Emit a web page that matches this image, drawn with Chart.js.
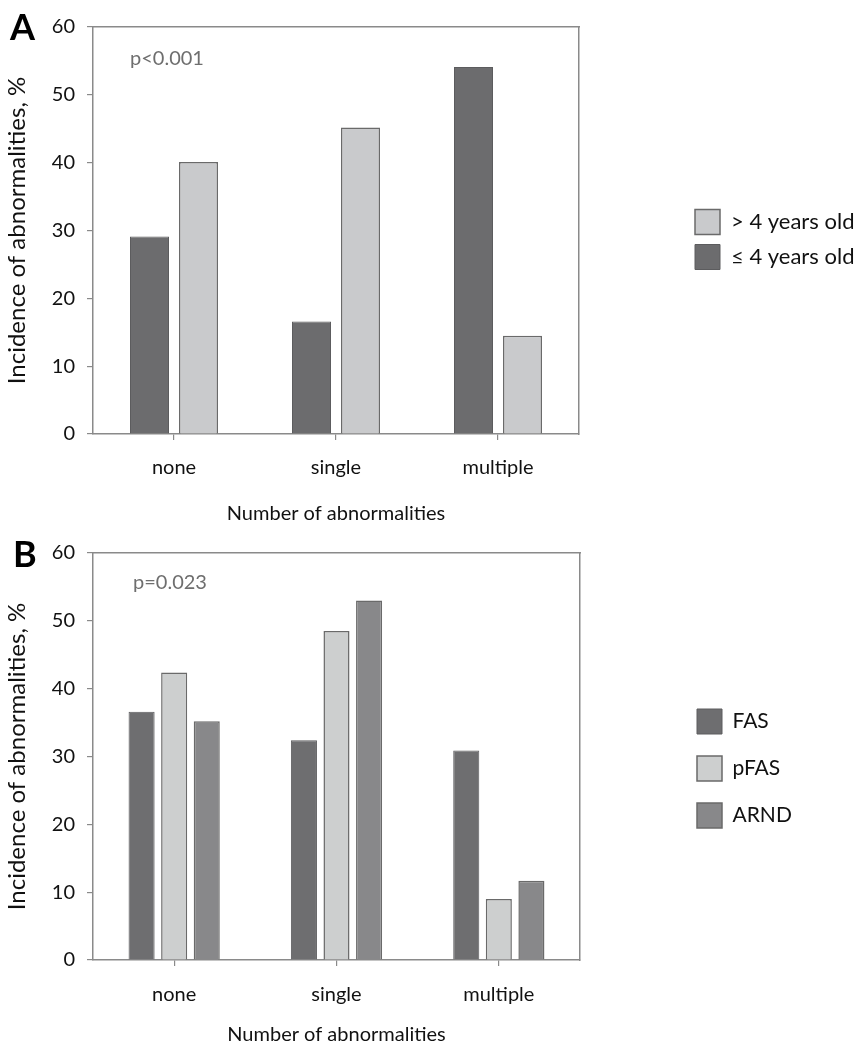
<!DOCTYPE html>
<html><head><meta charset="utf-8">
<script src="https://cdn.jsdelivr.net/npm/chart.js@4.4.1/dist/chart.umd.min.js"></script>
<style>
html,body{margin:0;padding:0;background:#fff;width:864px;height:1051px;overflow:hidden;position:relative}
.panel{position:absolute;left:0;width:900px}
#pa{top:0;height:526px}
#pb{top:526px;height:525px}
</style></head><body>
<div class="panel" id="pa"><canvas id="ca"></canvas></div>
<div class="panel" id="pb"><canvas id="cb"></canvas></div>
<script>
// ---- data ----
const categories = ['none', 'single', 'multiple'];
const yTickValues = [0, 10, 20, 30, 40, 50, 60];
const xTitle = 'Number of abnormalities';
const yTitle = 'Incidence of abnormalities, %';

// Panel A
const panelALetter = 'A';
const panelAP = 'p<0.001';
const ageLabels = ['\u2264 4 years old', '> 4 years old'];
const youngValues = [29.1, 16.6, 54.1];
const olderValues = [40.1, 45.2, 14.5];

// Panel B
const panelBLetter = 'B';
const panelBP = 'p=0.023';
const diagLabels = ['FAS', 'pFAS', 'ARND'];
const fasValues = [36.6, 32.4, 30.9];
const pfasValues = [42.4, 48.5, 9.0];
const arndValues = [35.2, 53.0, 11.7];

// ---- styling ----
const FONT = 'Lato';
const AXIS = '#8a8a8a';
const TEXT = '#111111';
const CANVAS_W = 900;

function legendWidth(texts, px, boxW, pad) {
  const c = document.createElement('canvas').getContext('2d');
  c.font = 'normal ' + px + 'px ' + FONT;
  const tw = Math.max(...texts.map(t => c.measureText(t).width));
  return pad + boxW + px / 2 + tw + 10;
}

const panelText = {
  id: 'panelText',
  afterDraw(chart, args, o) {
    const ctx = chart.ctx;
    ctx.save();
    ctx.textBaseline = 'alphabetic';
    ctx.textAlign = 'left';
    ctx.fillStyle = '#000';
    ctx.font = 'bold 36px ' + FONT;
    ctx.fillText(o.letter, o.lx, o.ly);
    ctx.fillStyle = '#6e6e6e';
    ctx.font = 'normal 20px ' + FONT;
    ctx.fillText(o.p, o.px, o.py);
    ctx.restore();
  }
};

function makeChart(id, datasets, opt) {
  const lw = legendWidth(opt.legendTexts, opt.legendFont, 25, opt.legendPad);
  const padRight = Math.max(0, CANVAS_W - opt.legendLeft - lw);
  const gap = opt.legendLeft - opt.plotRight;
  return new Chart(document.getElementById(id), {
    type: 'bar',
    data: { labels: categories, datasets },
    plugins: [panelText],
    options: {
      responsive: true,
      maintainAspectRatio: false,
      animation: false,
      layout: { padding: { left: 0, top: 27, right: padRight, bottom: 0 } },
      datasets: { bar: { categoryPercentage: opt.catPct, barPercentage: opt.barPct } },
      scales: {
        x: {
          position: 'bottom',
          grid: { display: true, drawOnChartArea: false, drawTicks: true, tickLength: 6, offset: false, color: AXIS, lineWidth: 1.2 },
          border: { display: true, color: AXIS, width: 1.5 },
          ticks: { font: { family: FONT, size: 20 }, color: TEXT, padding: opt.xTickPad, maxRotation: 0 },
          title: { display: true, text: xTitle, font: { family: FONT, size: 20 }, color: TEXT, padding: { top: 0, bottom: opt.xTitlePad } },
          afterFit(s) { s.height = opt.H - 434; }
        },
        x2: {
          type: 'category',
          labels: categories,
          position: 'top',
          grid: { display: false, drawTicks: false },
          ticks: { display: false },
          border: { display: true, color: AXIS, width: 1.5 },
          afterFit(s) { s.height = 0; }
        },
        y: {
          position: 'left',
          min: 0, max: 60,
          afterBuildTicks(s) { s.ticks = yTickValues.map(v => ({ value: v })); },
          grid: { display: true, drawOnChartArea: false, drawTicks: true, tickLength: 6, color: AXIS, lineWidth: 1.2 },
          border: { display: true, color: AXIS, width: 1.5 },
          ticks: { font: { family: FONT, size: 20 }, color: TEXT, padding: 12 },
          title: { display: true, text: yTitle, font: { family: FONT, size: 24 }, color: TEXT, padding: { top: 3, bottom: 0 } },
          afterFit(s) { s.width = 93; }
        },
        y2: {
          position: 'right',
          min: 0, max: 60,
          grid: { display: false, drawTicks: false },
          ticks: { display: false },
          border: { display: true, color: AXIS, width: 1.5 },
          afterFit(s) { s.width = gap; }
        }
      },
      plugins: {
        tooltip: { enabled: false },
        legend: {
          display: true,
          position: 'right',
          fullSize: false,
          maxWidth: 400,
          reverse: opt.legendReverse,
          align: 'center',
          title: { display: true, text: ' ', font: { size: 10 }, padding: { top: opt.legendShift - 12, bottom: 0 } },
          labels: {
            boxWidth: 25, boxHeight: 25, padding: opt.legendPad,
            font: { family: FONT, size: opt.legendFont }, color: TEXT
          }
        },
        panelText: opt.text
      }
    }
  });
}

makeChart('ca', [
  { label: ageLabels[0], data: youngValues, backgroundColor: '#6c6c6e', borderColor: '#5c5c5e', borderWidth: 1 },
  { label: ageLabels[1], data: olderValues, backgroundColor: '#c9cacc', borderColor: '#6a6a6a', borderWidth: 1.5 }
], {
  H: 526, catPct: 0.605, barPct: 0.796,
  legendTexts: ageLabels, legendFont: 22, legendPad: 10, legendLeft: 685, plotRight: 579,
  legendReverse: true, legendShift: 18, xTickPad: 16, xTitlePad: 0,
  text: { letter: panelALetter, lx: 10, ly: 40, p: panelAP, px: 130, py: 65 }
});

makeChart('cb', [
  { label: diagLabels[0], data: fasValues, backgroundColor: '#6e6e70', borderColor: '#5c5c5e', borderWidth: 1 },
  { label: diagLabels[1], data: pfasValues, backgroundColor: '#cdcfcf', borderColor: '#6a6a6a', borderWidth: 1.5 },
  { label: diagLabels[2], data: arndValues, backgroundColor: '#88888a', borderColor: '#6a6a6a', borderWidth: 1.5 }
], {
  H: 525, catPct: 0.602, barPct: 0.8,
  legendTexts: diagLabels, legendFont: 21, legendPad: 22, legendLeft: 675, plotRight: 580,
  legendReverse: false, legendShift: 24, xTickPad: 17, xTitlePad: 4,
  text: { letter: panelBLetter, lx: 13, ly: 41, p: panelBP, px: 133, py: 63 }
});
</script>
</body></html>
